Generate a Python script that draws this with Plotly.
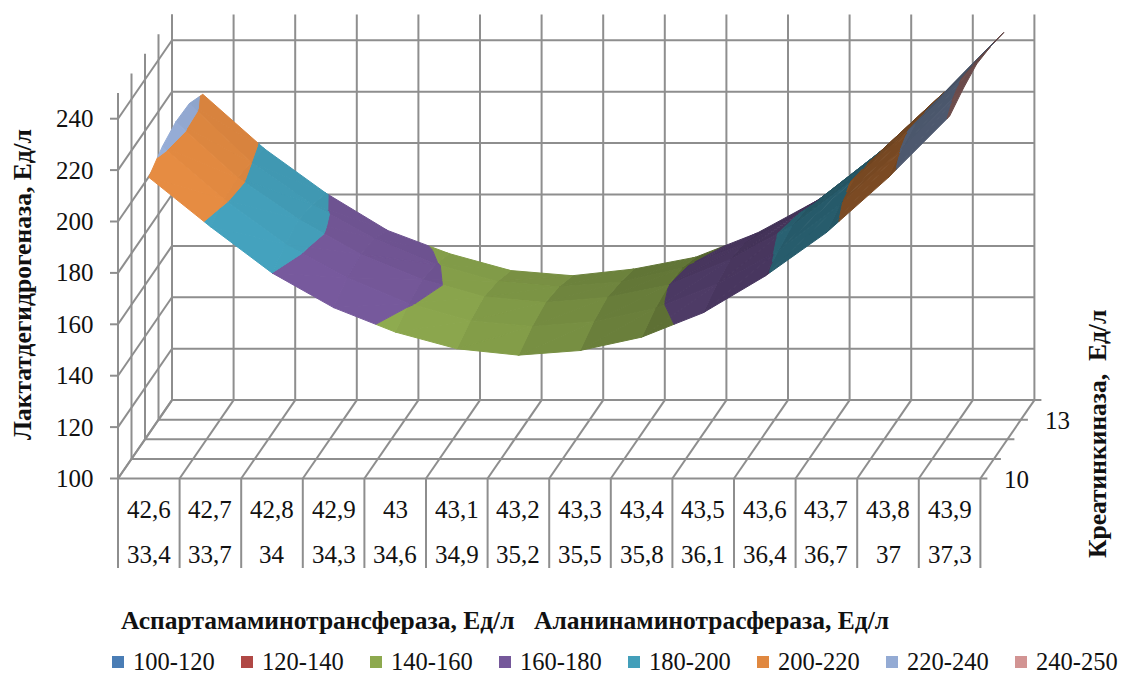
import numpy as np
import plotly.graph_objects as go

# Enzyme activity surface: lactate dehydrogenase over (AST, ALT) and creatine kinase
ast_labels = ["42,6", "42,7", "42,8", "42,9", "43", "43,1", "43,2", "43,3", "43,4", "43,5", "43,6", "43,7", "43,8", "43,9"]
alt_labels = ["33,4", "33,7", "34", "34,3", "34,6", "34,9", "35,2", "35,5", "35,8", "36,1", "36,4", "36,7", "37", "37,3"]
ck_levels = [10, 11, 12, 13, 14]
ck_tick_labels = {10: "10", 13: "13"}
ldh_ticks = [100, 120, 140, 160, 180, 200, 220, 240]

ldh_ck10 = [217.2, 198.0, 180.0, 166.5, 157.0, 150.5, 148.0, 149.8, 155.0, 164.5, 178.7, 195.7, 217.0, 241.0]
ldh_ck11 = [221.5, 201.0, 183.5, 170.5, 160.5, 153.8, 151.5, 153.4, 158.5, 168.0, 181.0, 199.0, 220.5, 244.0]
ldh_ck12 = [223.5, 201.9, 185.5, 172.0, 162.2, 155.5, 153.2, 155.2, 160.0, 170.0, 183.0, 201.0, 222.5, 246.0]
ldh_ck13 = [223.0, 200.2, 183.6, 170.5, 160.5, 153.8, 151.7, 153.6, 159.0, 168.5, 181.5, 199.5, 221.0, 245.0]
ldh_ck14 = [219.0, 197.8, 180.5, 166.0, 157.0, 150.4, 148.4, 151.0, 155.6, 165.0, 178.0, 196.7, 219.0, 243.0]

band_edges = [100, 120, 140, 160, 180, 200, 220, 240, 250]
band_names = ["100-120", "120-140", "140-160", "160-180", "180-200", "200-220", "220-240", "240-250"]
band_colors = ["#4A7DB5", "#B04845", "#8DA94E", "#75589A", "#439FBA", "#E08840", "#94ABD4", "#D29493"]

SERIF = "Liberation Serif"
GRID = "#8E8E8E"

# Oblique projection of the three chart axes onto the page
X0, Y0 = 118.0, 478.5
CELL = 61.6
DEPTH_X, DEPTH_Y = 13.5, -19.6
Z_SCALE = 2.57
Z_MIN, Z_MAX = 100, 250
N_CAT = len(ast_labels)
N_DEPTH = len(ck_levels) - 1


def project(u, d, z):
    """u: category position (0..N_CAT), d: depth step, z: value on the vertical axis."""
    return X0 + CELL * u + DEPTH_X * d, Y0 + DEPTH_Y * d - Z_SCALE * (z - Z_MIN)


def clip_band(poly, lo, hi):
    """Cut a polygon with vertices (u, d, z) down to the part with lo <= z <= hi."""
    def cut(points, limit, keep_below):
        out = []
        for a, b in zip(points, points[1:] + points[:1]):
            a_in = a[2] <= limit if keep_below else a[2] >= limit
            b_in = b[2] <= limit if keep_below else b[2] >= limit
            if a_in:
                out.append(a)
            if a_in != b_in:
                t = (limit - a[2]) / (b[2] - a[2])
                out.append(tuple(a[k] + t * (b[k] - a[k]) for k in range(3)))
        return out
    part = cut(poly, hi, True)
    return cut(part, lo, False) if part else []


def shade_of(slope_cat, slope_depth):
    """Brightness of a facet from its slope along both horizontal axes."""
    base = np.interp(slope_cat, [-25, -8, 0, 5, 10, 20, 25], [1.0, 0.97, 0.86, 0.72, 0.62, 0.53, 0.47])
    return float(np.clip(base + 0.010 * np.clip(slope_depth, -5, 5), 0.3, 1.05))


def shaded(color, k):
    rgb = [int(color[i:i + 2], 16) for i in (1, 3, 5)]
    return "rgb({},{},{})".format(*[min(255, int(round(c * k))) for c in rgb])


def polyline_trace(segments, width=2.0):
    xs, ys = [], []
    for a, b in segments:
        xs += [a[0], b[0], None]
        ys += [a[1], b[1], None]
    return go.Scatter(x=xs, y=ys, mode="lines", line=dict(color=GRID, width=width),
                      hoverinfo="skip", showlegend=False)


fig = go.Figure()

# Walls and floor
grid = []
for d in range(N_DEPTH + 1):
    grid.append((project(0, d, Z_MIN), project(0, d, Z_MAX)))
    end = project(N_CAT, d, Z_MIN)
    grid.append((project(0, d, Z_MIN), (end[0] + 7, end[1])))
for i in range(N_CAT + 1):
    grid.append((project(i, 0, Z_MIN), project(i, N_DEPTH, Z_MIN)))
    grid.append((project(i, N_DEPTH, Z_MIN), project(i, N_DEPTH, Z_MAX)))
for t in ldh_ticks:
    grid.append((project(0, N_DEPTH, t), project(N_CAT, N_DEPTH, t)))
    grid.append((project(0, 0, t), project(0, N_DEPTH, t)))
    start = project(0, 0, t)
    grid.append(((start[0] - 8, start[1]), start))
# Rules framing the two-level category table
table_bottom = Y0 + 89.5
for i in range(N_CAT + 1):
    top = project(i, 0, Z_MIN)
    grid.append((top, (top[0], table_bottom)))
fig.add_trace(polyline_trace(grid))

# Surface facets, painted from the far corner towards the viewer
rows = np.array([ldh_ck10, ldh_ck11, ldh_ck12, ldh_ck13, ldh_ck14])
for d in range(N_DEPTH - 1, -1, -1):
    for i in range(N_CAT - 2, -1, -1):
        p00 = (i + 0.5, d, rows[d, i])
        p10 = (i + 1.5, d, rows[d, i + 1])
        p11 = (i + 1.5, d + 1, rows[d + 1, i + 1])
        p01 = (i + 0.5, d + 1, rows[d + 1, i])
        slope_cat = (p10[2] + p11[2] - p00[2] - p01[2]) / 2
        slope_depth = (p01[2] + p11[2] - p00[2] - p10[2]) / 2
        k = shade_of(slope_cat, slope_depth)
        for tri in ((p00, p10, p11), (p00, p11, p01)):
            for b, color in enumerate(band_colors):
                part = clip_band(list(tri), band_edges[b], band_edges[b + 1])
                if len(part) < 3:
                    continue
                pts = [project(*v) for v in part]
                xs = [q[0] for q in pts] + [pts[0][0]]
                ys = [q[1] for q in pts] + [pts[0][1]]
                c = shaded(color, k)
                fig.add_trace(go.Scatter(x=xs, y=ys, mode="lines", fill="toself", fillcolor=c,
                                         line=dict(color=c, width=1.0), hoverinfo="skip", showlegend=False))

annotations = []


def label(x, y, text, size=25, bold=False, angle=0, anchor="center"):
    annotations.append(dict(x=x, y=y, xref="x", yref="y", text=f"<b>{text}</b>" if bold else text,
                            showarrow=False, textangle=angle, xanchor=anchor, yanchor="middle",
                            font=dict(family=SERIF, size=size, color="#111111")))


# Legend row along the bottom edge
LEGEND_X, LEGEND_STEP, LEGEND_Y = 118.0, 129.0, 661.0
fig.add_trace(go.Scatter(
    x=[LEGEND_X + LEGEND_STEP * k for k in range(len(band_names))],
    y=[LEGEND_Y + 1] * len(band_names), mode="markers", hoverinfo="skip", showlegend=False,
    marker=dict(symbol="square", size=12, color=band_colors, line=dict(width=0))))
for k, name in enumerate(band_names):
    label(LEGEND_X + LEGEND_STEP * k + 13, LEGEND_Y, name, size=24.5, anchor="left")

for i in range(N_CAT):
    cx = project(i + 0.5, 0, Z_MIN)[0]
    label(cx, 509, ast_labels[i])
    label(cx, 554, alt_labels[i])
for t in ldh_ticks:
    px, py = project(0, 0, t)
    label(px - 22, py, str(t), anchor="right")
for d, lev in enumerate(ck_levels):
    if lev in ck_tick_labels:
        px, py = project(N_CAT, d, Z_MIN)
        label(px + 22, py + 1, ck_tick_labels[lev], anchor="left")

label(22, 285, "Лактатдегидрогеназа, Ед/л", size=25.5, bold=True, angle=-90)
label(1097, 434, "Креатинкиназа,  Ед/л", size=25.5, bold=True, angle=-90)
label(317, 620, "Аспартамаминотрансфераза, Ед/л", size=25.5, bold=True)
label(711, 620, "Аланинаминотрасфераза, Ед/л", size=25.5, bold=True)

fig.update_layout(
    width=1124, height=676, margin=dict(l=0, r=0, t=0, b=0),
    paper_bgcolor="white", plot_bgcolor="white", showlegend=False,
    xaxis=dict(range=[0, 1124], visible=False, fixedrange=True),
    yaxis=dict(range=[676, 0], visible=False, fixedrange=True),
    annotations=annotations,
)

fig.write_html("out.html")
